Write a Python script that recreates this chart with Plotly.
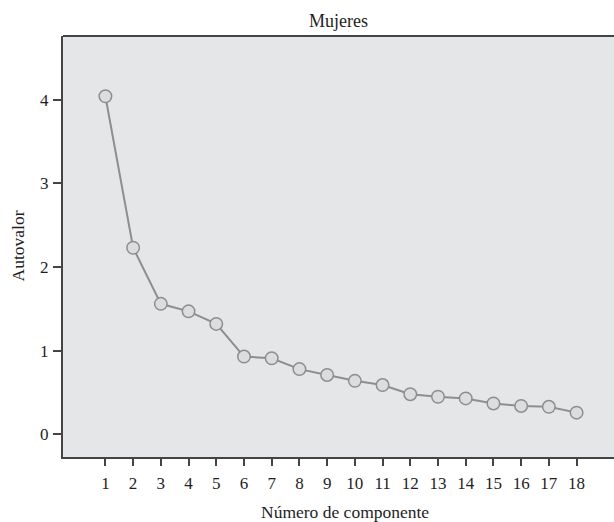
import plotly.graph_objects as go

componentes = list(range(1, 19))
autovalores = [4.04, 2.23, 1.56, 1.47, 1.32, 0.93, 0.91, 0.78, 0.71, 0.64, 0.59,
               0.48, 0.45, 0.43, 0.37, 0.34, 0.33, 0.26]
y_ticks = [0, 1, 2, 3, 4]

font_family = "Liberation Serif, Times New Roman, serif"
txt = "#1e1e1e"

fig = go.Figure()
fig.add_trace(go.Scatter(
    x=componentes, y=autovalores, mode="lines+markers",
    line=dict(color="#8e8e8e", width=2),
    marker=dict(symbol="circle", size=12.5, color="#dcdde0",
                line=dict(color="#8e8e8e", width=1.5)),
    showlegend=False, cliponaxis=False,
))

fig.update_layout(
    width=614, height=522,
    margin=dict(l=63, r=0, t=36, b=65, autoexpand=False),
    paper_bgcolor="white", plot_bgcolor="#e5e6e8",
    font=dict(family=font_family, size=17, color=txt),
    title=dict(text="Mujeres", x=0.5, xanchor="center", xref="paper",
               y=1 - 21 / 522, yanchor="middle",
               font=dict(family=font_family, size=18, color=txt)),
    shapes=[dict(type="line", xref="paper", yref="paper", x0=0, x1=1, y0=1, y1=1,
                 line=dict(color="#444", width=2), layer="above")],
    annotations=[
        dict(text="Número de componente", xref="paper", yref="paper",
             x=0.5, y=0, xanchor="center", yanchor="middle",
             xshift=6, yshift=-55, showarrow=False,
             font=dict(family=font_family, size=17.5, color=txt)),
        dict(text="Autovalor", xref="paper", yref="paper",
             x=0, y=0.5, xanchor="center", yanchor="middle", textangle=-90,
             xshift=-46, showarrow=False,
             font=dict(family=font_family, size=17.5, color=txt)),
    ],
)
fig.update_xaxes(
    range=[-0.53, 19.35], tickmode="array", tickvals=componentes,
    ticktext=[str(c) for c in componentes], automargin=False,
    showgrid=False, zeroline=False, showline=True, linecolor="#444", linewidth=2,
    mirror=False, ticks="outside", ticklen=7, tickwidth=1.5, tickcolor="#444",
    ticklabelstandoff=3, tickfont=dict(size=17),
)
fig.update_yaxes(
    range=[-0.27, 4.76], tickmode="array", tickvals=y_ticks, automargin=False,
    showgrid=False, zeroline=False, showline=True, linecolor="#444", linewidth=2,
    ticks="outside", ticklen=8, tickwidth=1.5, tickcolor="#444",
    ticklabelstandoff=1, tickfont=dict(size=17),
)

fig.write_html("out.html",
               config={"displayModeBar": False},
               post_script="document.body.style.margin='0';"
                           "document.body.style.overflow='hidden';")
